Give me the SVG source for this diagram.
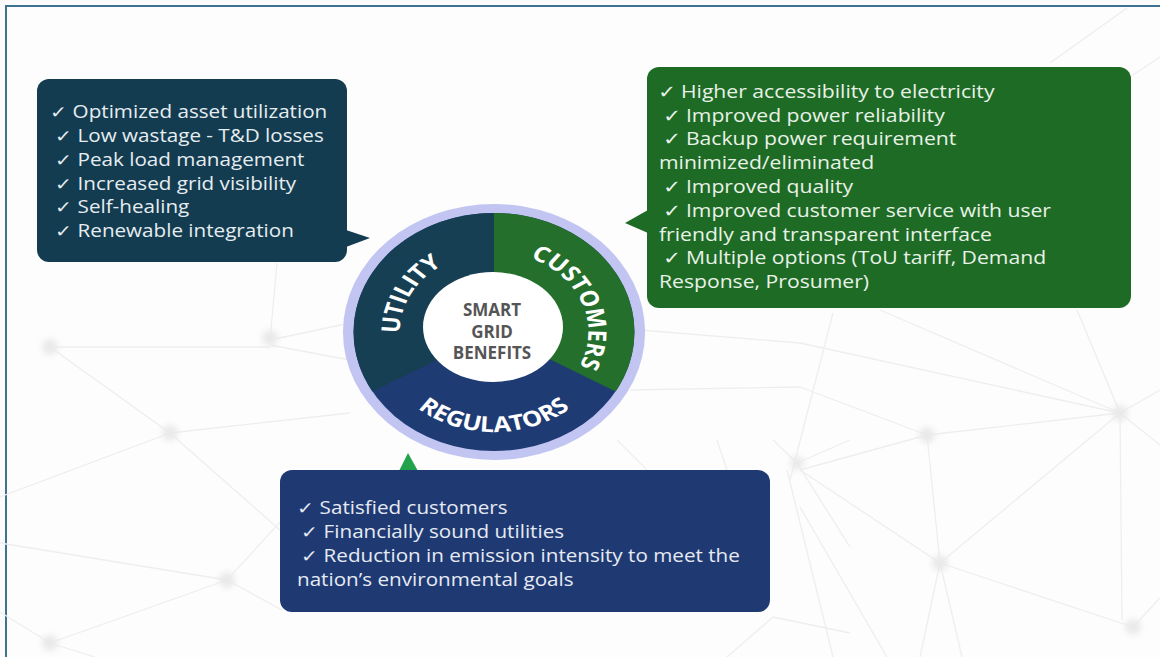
<svg xmlns="http://www.w3.org/2000/svg" width="1160" height="657" viewBox="0 0 1160 657">
  <style>
    .net line { stroke: #eeeeee; stroke-width: 1.3; }
    .knot { fill: #e9e9e9; filter: url(#soft); }
    .item { font-family: "Open Sans", "Liberation Sans", sans-serif; font-size: 17.5px; }
    .util-txt { fill: #e6edf0; }
    .cust-txt { fill: #e9f2e8; }
    .reg-txt { fill: #e6eaf4; }
    .ring-lbl { font-family: "Open Sans", "Liberation Sans", sans-serif; font-weight: 700; font-size: 21.5px; fill: #ffffff; }
    .hub { font-family: "Open Sans", "Liberation Sans", sans-serif; font-weight: 700; font-size: 17px; fill: #555555; text-anchor: middle; }
  </style>
  <defs>
    <filter id="soft" x="-50%" y="-50%" width="200%" height="200%">
      <feGaussianBlur stdDeviation="3"/>
    </filter>
    <!-- label arcs, in the ring's local (unscaled) coordinates -->
    <path id="arcUtility" d="M-67.8,42.4 A80,80 0 0 1 -2.8,-80"/>
    <path id="arcCustomers" d="M12.5,-79 A80,80 0 0 1 62.2,50.3"/>
    <path id="arcRegulators" d="M-86.6,50 A100,100 0 0 0 86.6,50"/>
  </defs>

  <!-- page -->
  <rect x="0" y="0" width="1160" height="657" fill="#fbfbfb"/>
  <rect x="6" y="6" width="1170" height="670" fill="#fdfdfd" stroke="#3d7291" stroke-width="2"/>

  <!-- faint network backdrop -->
  <g id="backdrop" class="net">
    <line x1="50" y1="347" x2="270" y2="347"/>
    <line x1="270" y1="340" x2="277" y2="263"/>
    <line x1="270" y1="340" x2="350" y2="323"/>
    <line x1="270" y1="345" x2="350" y2="360"/>
    <line x1="50" y1="347" x2="170" y2="433"/>
    <line x1="170" y1="433" x2="350" y2="413"/>
    <line x1="170" y1="433" x2="0" y2="497"/>
    <line x1="170" y1="433" x2="280" y2="530"/>
    <line x1="0" y1="543" x2="227" y2="580"/>
    <line x1="227" y1="580" x2="282" y2="610"/>
    <line x1="227" y1="580" x2="50" y2="643"/>
    <line x1="227" y1="580" x2="282" y2="520"/>
    <line x1="50" y1="643" x2="0" y2="612"/>
    <line x1="50" y1="643" x2="95" y2="657"/>
    <line x1="617" y1="440" x2="647" y2="470"/>
    <line x1="717" y1="440" x2="727" y2="470"/>
    <line x1="773" y1="440" x2="797" y2="463"/>
    <line x1="797" y1="463" x2="850" y2="440"/>
    <line x1="797" y1="463" x2="850" y2="547"/>
    <line x1="787" y1="470" x2="833" y2="657"/>
    <line x1="773" y1="617" x2="727" y2="657"/>
    <line x1="773" y1="617" x2="850" y2="633"/>
    <line x1="640" y1="330" x2="800" y2="343"/>
    <line x1="630" y1="390" x2="800" y2="387"/>
    <line x1="800" y1="343" x2="1120" y2="413"/>
    <line x1="880" y1="310" x2="1120" y2="413"/>
    <line x1="800" y1="387" x2="927" y2="435"/>
    <line x1="800" y1="470" x2="927" y2="435"/>
    <line x1="927" y1="435" x2="1120" y2="413"/>
    <line x1="927" y1="435" x2="940" y2="563"/>
    <line x1="800" y1="470" x2="940" y2="563"/>
    <line x1="940" y1="563" x2="1120" y2="413"/>
    <line x1="940" y1="563" x2="1133" y2="627"/>
    <line x1="1120" y1="413" x2="1122" y2="620"/>
    <line x1="833" y1="313" x2="790" y2="480"/>
    <line x1="1077" y1="310" x2="1120" y2="413"/>
    <line x1="1120" y1="413" x2="1160" y2="390"/>
    <line x1="1120" y1="413" x2="1160" y2="445"/>
    <line x1="1133" y1="627" x2="1160" y2="598"/>
    <line x1="940" y1="563" x2="920" y2="657"/>
    <line x1="940" y1="563" x2="962" y2="657"/>
    <line x1="800" y1="507" x2="887" y2="657"/>
    <line x1="1050" y1="63" x2="1127" y2="8"/>
    <line x1="1130" y1="77" x2="1160" y2="57"/>
    <circle class="knot" cx="50" cy="347" r="8"/>
    <circle class="knot" cx="270" cy="338" r="8"/>
    <circle class="knot" cx="170" cy="433" r="8"/>
    <circle class="knot" cx="227" cy="580" r="8"/>
    <circle class="knot" cx="50" cy="643" r="8"/>
    <circle class="knot" cx="797" cy="463" r="7"/>
    <circle class="knot" cx="927" cy="435" r="8"/>
    <circle class="knot" cx="940" cy="563" r="8"/>
    <circle class="knot" cx="1120" cy="413" r="8"/>
    <circle class="knot" cx="1133" cy="627" r="8"/>
  </g>

  <!-- central ring -->
  <g id="ring">
    <g transform="translate(494,332) scale(1.18,1)">
      <circle r="128" fill="#c2c5f2"/>
      <circle r="119" fill="#1f3b73"/>
      <path d="M0,0 L0,-119 A119,119 0 0 0 -103.06,59.5 Z" fill="#173f54"/>
      <path d="M0,0 L0,-119 A119,119 0 0 1 103.06,59.5 Z" fill="#236f2b"/>
      <text class="ring-lbl"><textPath href="#arcUtility" startOffset="50%" text-anchor="middle">UTILITY</textPath></text>
      <text class="ring-lbl"><textPath href="#arcCustomers" startOffset="50%" text-anchor="middle">CUSTOMERS</textPath></text>
      <text class="ring-lbl"><textPath href="#arcRegulators" startOffset="50%" text-anchor="middle">REGULATORS</textPath></text>
    </g>
    <ellipse cx="493" cy="327" rx="70" ry="55" fill="#ffffff"/>
    <text class="hub" x="492" y="316">SMART</text>
    <text class="hub" x="492" y="338">GRID</text>
    <text class="hub" x="492" y="359">BENEFITS</text>
  </g>

  <!-- utility benefits -->
  <g id="utility">
    <rect x="37" y="79" width="310" height="183" rx="12" fill="#133c51"/>
    <polygon points="346,230 370,238 346,247" fill="#133c51"/>
    <g class="item util-txt" transform="translate(50,0) scale(1.18,1)">
      <text x="0" y="118">✓ Optimized asset utilization</text>
      <text x="4.2" y="142">✓ Low wastage - T&amp;D losses</text>
      <text x="4.2" y="166">✓ Peak load management</text>
      <text x="4.2" y="190">✓ Increased grid visibility</text>
      <text x="4.2" y="213">✓ Self-healing</text>
      <text x="4.2" y="237">✓ Renewable integration</text>
    </g>
  </g>

  <!-- customer benefits -->
  <g id="customers">
    <rect x="647" y="67" width="484" height="241" rx="12" fill="#1e6b25"/>
    <polygon points="648,210 625,223 648,233" fill="#1e6b25"/>
    <g class="item cust-txt" transform="translate(658,0) scale(1.21,1)">
      <text x="0" y="98">✓ Higher accessibility to electricity</text>
      <text x="4.1" y="122">✓ Improved power reliability</text>
      <text x="4.1" y="145">✓ Backup power requirement</text>
      <text x="0.8" y="169">minimized/eliminated</text>
      <text x="4.1" y="193">✓ Improved quality</text>
      <text x="4.1" y="217">✓ Improved customer service with user</text>
      <text x="0.8" y="241">friendly and transparent interface</text>
      <text x="4.1" y="264">✓ Multiple options (ToU tariff, Demand</text>
      <text x="0.8" y="288">Response, Prosumer)</text>
    </g>
  </g>

  <!-- regulator benefits -->
  <g id="regulators">
    <polygon points="408,453 399,471 418,471" fill="#22a24c"/>
    <rect x="280" y="470" width="490" height="142" rx="12" fill="#1f3a72"/>
    <g class="item reg-txt" transform="translate(297,0) scale(1.18,1)">
      <text x="0" y="514">✓ Satisfied customers</text>
      <text x="3.4" y="538">✓ Financially sound utilities</text>
      <text x="3.4" y="562">✓ Reduction in emission intensity to meet the</text>
      <text x="0" y="586">nation’s environmental goals</text>
    </g>
  </g>
</svg>
